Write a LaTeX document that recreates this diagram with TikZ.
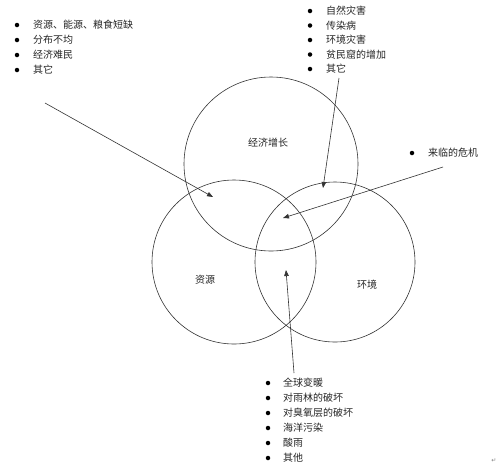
\documentclass[tikz,border=0pt]{standalone}
\usepackage{fontspec}
\newfontfamily\cjk{Noto Sans CJK SC}
\newfontfamily\djv{DejaVu Sans}
\usetikzlibrary{arrows.meta}
\begin{document}
\begin{tikzpicture}[x=1pt,y=-1pt,
  ring/.style={circle,draw=black!80,line width=0.6pt,inner sep=0pt},
  lbl/.style={font=\cjk\fontsize{10}{12}\selectfont,inner sep=0pt,anchor=west,text=black!85},
  dot/.style={circle,fill=black,inner sep=0pt,minimum size=4.5pt},
  arr/.style={draw=black!80,line width=0.6pt,-{Triangle[length=6pt,width=4.5pt]}}]
\useasboundingbox[fill=white] (0,0) rectangle (500,467);
% circles
\node[ring,minimum size=174pt] (econ) at (271,164) {};
\node[ring,minimum size=164pt] (res) at (234,262) {};
\node[ring,minimum size=160pt] (env) at (335,262) {};
\node[lbl,anchor=center] (econt) at (268,143) {经济增长};
\node[lbl,anchor=center] (rest) at (205,280) {资源};
\node[lbl,anchor=center] (envt) at (367,285) {环境};
% lists
\foreach \t [count=\i] in {资源、能源、粮食短缺,分布不均,经济难民,其它}{
  \node[dot] (la\i) at (17,{10+15*\i}) {};
  \node[lbl] (lt\i) at (33,{10+15*\i}) {\t};
}
\foreach \t [count=\i] in {自然灾害,传染病,环境灾害,贫民窟的增加,其它}{
  \node[dot] (ra\i) at (310,{11+14.5*(\i-1)}) {};
  \node[lbl] (rt\i) at (326,{11+14.5*(\i-1)}) {\t};
}
\node[dot] (ca) at (412,153) {};
\node[lbl] (ct) at (428,153) {来临的危机};
\foreach \t [count=\i] in {全球变暖,对雨林的破坏,对臭氧层的破坏,海洋污染,酸雨,其他}{
  \node[dot] (ba\i) at (268,{383+15*(\i-1)}) {};
  \node[lbl] (bt\i) at (283,{383+15*(\i-1)}) {\t};
}
% arrows
\coordinate (s1) at (45,103);  \coordinate (e1) at (213,197);
\coordinate (s2) at (339,78);  \coordinate (e2) at (323,188);
\coordinate (s3) at (443,167); \coordinate (e3) at (283,218);
\coordinate (s4) at (294,373); \coordinate (e4) at (286,270);
\draw[arr] (s1) -- (e1);
\draw[arr] (s2) -- (e2);
\draw[arr] (s3) -- (e3);
\draw[arr] (s4) -- (e4);
\node[font=\djv\fontsize{6}{7}\selectfont,text=black!50,inner sep=0pt] (ret) at (494,461) {↵};
\end{tikzpicture}
\end{document}
